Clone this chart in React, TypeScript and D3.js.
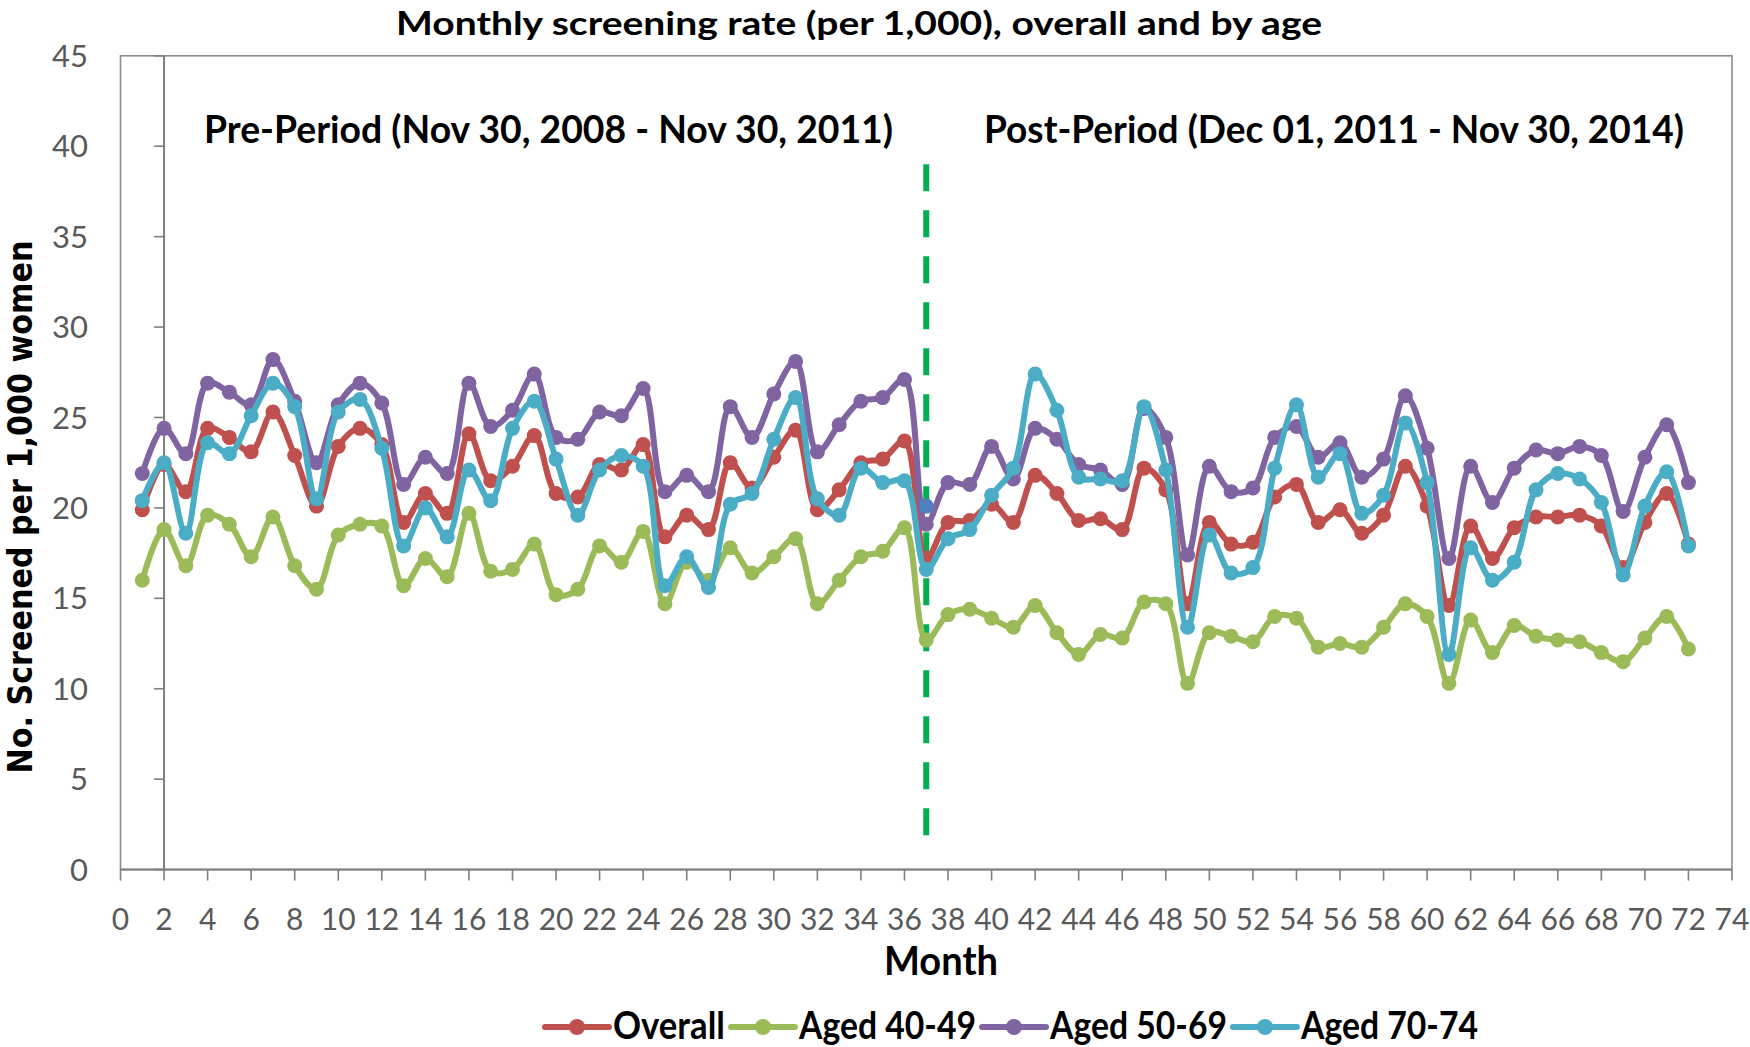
import React from "react";
import * as d3 from "d3";

const W = 1750;
const H = 1047;

const title = "Monthly screening rate (per 1,000), overall and by age";
const preLabel = "Pre-Period (Nov 30, 2008 - Nov 30, 2011)";
const postLabel = "Post-Period (Dec 01, 2011 - Nov 30, 2014)";
const xTitle = "Month";
const yTitle = "No. Screened per 1,000 women";

const seriesNames = ["Overall", "Aged 40-49", "Aged 50-69", "Aged 70-74"];
const seriesColors = ["#C0504D", "#9BBB59", "#8064A2", "#4BACC6"];

const overall = [
  19.9, 22.4, 20.9, 24.4, 23.9, 23.1, 25.3, 22.9, 20.1, 23.4, 24.4, 23.5,
  19.2, 20.8, 19.7, 24.1, 21.5, 22.3, 24.0, 20.8, 20.6, 22.4, 22.1, 23.5,
  18.4, 19.6, 18.8, 22.5, 21.1, 22.8, 24.3, 19.9, 21.0, 22.5, 22.7, 23.7,
  17.2, 19.2, 19.3, 20.2, 19.2, 21.8, 20.8, 19.3, 19.4, 18.8, 22.2, 21.0,
  14.7, 19.2, 18.0, 18.1, 20.6, 21.3, 19.2, 19.9, 18.6, 19.6, 22.3, 20.1,
  14.6, 19.0, 17.2, 18.9, 19.5, 19.5, 19.6, 19.0, 16.7, 19.2, 20.8, 18.0,
];

const aged4049 = [
  16.0, 18.8, 16.8, 19.6, 19.1, 17.3, 19.5, 16.8, 15.5, 18.5, 19.1, 19.0,
  15.7, 17.2, 16.2, 19.7, 16.5, 16.6, 18.0, 15.2, 15.5, 17.9, 17.0, 18.7,
  14.7, 17.0, 16.0, 17.8, 16.4, 17.3, 18.3, 14.7, 16.0, 17.3, 17.6, 18.9,
  12.7, 14.1, 14.4, 13.9, 13.4, 14.6, 13.1, 11.9, 13.0, 12.8, 14.8, 14.7,
  10.3, 13.1, 12.9, 12.6, 14.0, 13.9, 12.3, 12.5, 12.3, 13.4, 14.7, 14.0,
  10.3, 13.8, 12.0, 13.5, 12.9, 12.7, 12.6, 12.0, 11.5, 12.8, 14.0, 12.2,
];

const aged5069 = [
  21.9, 24.4, 23.0, 26.9, 26.4, 25.7, 28.2, 25.9, 22.5, 25.7, 26.9, 25.8,
  21.3, 22.8, 21.9, 26.9, 24.5, 25.4, 27.4, 23.9, 23.8, 25.3, 25.1, 26.6,
  20.9, 21.8, 20.9, 25.6, 23.9, 26.3, 28.1, 23.1, 24.6, 25.9, 26.1, 27.1,
  19.1, 21.4, 21.3, 23.4, 21.6, 24.4, 23.8, 22.4, 22.1, 21.3, 25.5, 23.9,
  17.4, 22.3, 20.9, 21.1, 23.9, 24.5, 22.8, 23.6, 21.7, 22.7, 26.2, 23.3,
  17.2, 22.3, 20.3, 22.2, 23.2, 23.0, 23.4, 22.9, 19.8, 22.8, 24.6, 21.4,
];

const aged7074 = [
  20.4, 22.5, 18.6, 23.6, 23.0, 25.1, 26.9, 25.6, 20.5, 25.3, 26.0, 23.3,
  17.9, 20.0, 18.4, 22.1, 20.4, 24.4, 25.9, 22.7, 19.6, 22.1, 22.9, 22.3,
  15.7, 17.3, 15.6, 20.2, 20.8, 23.8, 26.1, 20.5, 19.6, 22.2, 21.4, 21.5,
  16.6, 18.3, 18.8, 20.7, 22.2, 27.4, 25.4, 21.7, 21.6, 21.5, 25.6, 22.1,
  13.4, 18.5, 16.4, 16.7, 22.2, 25.7, 21.7, 23.0, 19.7, 20.7, 24.7, 21.4,
  11.9, 17.8, 16.0, 17.0, 21.0, 21.9, 21.6, 20.3, 16.3, 20.1, 22.0, 17.9,
];

const seriesValues = [overall, aged4049, aged5069, aged7074];

// stray marker at the divider month
const extraPointMonth = [37];
const extraPointValue = [20.1];

// divider
const dividerMonth = 37;
const dividerTop = 39.0;
const dividerBottom = 0.9;

const xTickValues = d3.range(0, 76, 2);
const yTickValues = d3.range(0, 50, 5);
const yAxisAtMonth = 2;

const FONT = "Lato, 'Open Sans', sans-serif";

export default function App() {
  React.useEffect(() => {
    document.body.style.margin = "0";
  }, []);

  const x = d3.scaleLinear().domain([0, 74]).range([120.5, 1732]);
  const y = d3.scaleLinear().domain([0, 45]).range([869.6, 55.8]);

  const line = d3
    .line<number>()
    .x((_, i) => x(i + 1))
    .y((d) => y(d))
    .curve(d3.curveCatmullRom.alpha(0.5));

  const legendLineX = [545, 731, 982, 1233];
  const legendTextW = [112, 177, 177, 177];

  return (
    <svg
      width={W}
      height={H}
      viewBox={`0 0 ${W} ${H}`}
      style={{ display: "block", background: "#fff" }}
    >
      <rect x={0} y={0} width={W} height={H} fill="#fff" />

      {/* plot border */}
      <rect
        x={x(0)}
        y={y(45)}
        width={x(74) - x(0)}
        height={y(0) - y(45)}
        fill="none"
        stroke="#8c8c8c"
        strokeWidth={1.6}
      />

      {/* y axis line at month 2 */}
      <line
        x1={x(yAxisAtMonth)}
        x2={x(yAxisAtMonth)}
        y1={y(45)}
        y2={y(0)}
        stroke="#7f7f7f"
        strokeWidth={2}
      />
      {yTickValues.map((v) => (
        <line
          key={"yt" + v}
          x1={x(yAxisAtMonth) - 10}
          x2={x(yAxisAtMonth)}
          y1={y(v)}
          y2={y(v)}
          stroke="#7f7f7f"
          strokeWidth={1.6}
        />
      ))}
      {yTickValues.map((v) => (
        <text
          key={"yl" + v}
          x={88}
          y={y(v)}
          dy="0.36em"
          textAnchor="end"
          fontFamily={FONT}
          fontSize={31}
          fill="#595959"
        >
          {v}
        </text>
      ))}

      {/* x axis */}
      <line x1={x(0)} x2={x(74)} y1={y(0)} y2={y(0)} stroke="#7f7f7f" strokeWidth={2} />
      {xTickValues.map((v) => (
        <line
          key={"xt" + v}
          x1={x(v)}
          x2={x(v)}
          y1={y(0)}
          y2={y(0) + 11}
          stroke="#7f7f7f"
          strokeWidth={1.6}
        />
      ))}
      {xTickValues.map((v) => (
        <text
          key={"xl" + v}
          x={x(v)}
          y={930}
          textAnchor="middle"
          fontFamily={FONT}
          fontSize={30}
          fill="#595959"
        >
          {v}
        </text>
      ))}

      {/* period labels */}
      <text
        x={204}
        y={143}
        fontFamily={FONT}
        fontWeight="bold"
        fontSize={38}
        fill="#000"
        textLength={689}
        lengthAdjust="spacingAndGlyphs"
      >
        {preLabel}
      </text>
      <text
        x={984}
        y={143}
        fontFamily={FONT}
        fontWeight="bold"
        fontSize={38}
        fill="#000"
        textLength={700}
        lengthAdjust="spacingAndGlyphs"
      >
        {postLabel}
      </text>

      {/* divider */}
      <line
        x1={x(dividerMonth)}
        x2={x(dividerMonth)}
        y1={y(dividerTop)}
        y2={y(dividerBottom)}
        stroke="#00B050"
        strokeWidth={6}
        strokeDasharray="27 19"
      />

      {/* series */}
      {seriesValues.map((vals, si) => (
        <g key={"s" + si}>
          <path
            d={line(vals) || ""}
            fill="none"
            stroke={seriesColors[si]}
            strokeWidth={6}
            strokeLinejoin="round"
            strokeLinecap="round"
          />
          {vals.map((v, i) => (
            <circle
              key={i}
              cx={x(i + 1)}
              cy={y(v)}
              r={7.5}
              fill={seriesColors[si]}
            />
          ))}
        </g>
      ))}

      {extraPointMonth.map((m, i) => (
        <circle
          key={"ep" + i}
          cx={x(m)}
          cy={y(extraPointValue[i])}
          r={7.5}
          fill="#4F7FC0"
        />
      ))}

      {/* title */}
      <text
        x={859}
        y={35}
        textAnchor="middle"
        fontFamily={FONT}
        fontWeight="bold"
        fontSize={33}
        fill="#000"
        textLength={926}
        lengthAdjust="spacingAndGlyphs"
      >
        {title}
      </text>

      {/* axis titles */}
      <text
        x={941}
        y={975}
        textAnchor="middle"
        fontFamily={FONT}
        fontWeight="bold"
        fontSize={40}
        fill="#000"
        textLength={114}
        lengthAdjust="spacingAndGlyphs"
      >
        {xTitle}
      </text>
      <text
        transform={`translate(32, 507) rotate(-90)`}
        textAnchor="middle"
        fontFamily="'DejaVu Sans', Verdana, sans-serif"
        fontWeight="bold"
        fontSize={34}
        fill="#000"
        textLength={533}
        lengthAdjust="spacingAndGlyphs"
      >
        {yTitle}
      </text>

      {/* legend */}
      {seriesNames.map((name, i) => (
        <g key={"lg" + i}>
          <line
            x1={legendLineX[i]}
            x2={legendLineX[i] + 64}
            y1={1027}
            y2={1027}
            stroke={seriesColors[i]}
            strokeWidth={6}
            strokeLinecap="round"
          />
          <circle cx={legendLineX[i] + 32} cy={1027} r={8} fill={seriesColors[i]} />
          <text
            x={legendLineX[i] + 68}
            y={1039}
            fontFamily={FONT}
            fontWeight="bold"
            fontSize={38}
            fill="#000"
            textLength={legendTextW[i]}
            lengthAdjust="spacingAndGlyphs"
          >
            {name}
          </text>
        </g>
      ))}
    </svg>
  );
}
